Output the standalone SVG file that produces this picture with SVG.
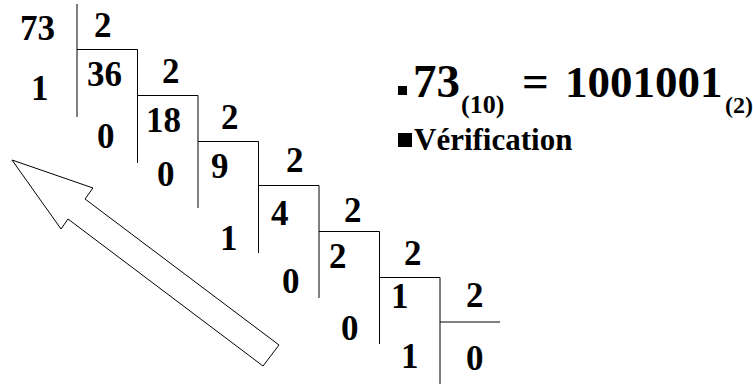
<svg xmlns="http://www.w3.org/2000/svg" width="753" height="385" viewBox="0 0 753 385">
<style>
text{font-family:'Liberation Serif','Times New Roman','DejaVu Serif',serif;font-weight:700;fill:#000}
.d{font-size:35px}
.ln{stroke:#000;stroke-width:1;fill:none}
</style>
<rect width="753" height="385" fill="#fff"/>
<g id="lines" class="ln">
<path d="M77,4V117 M77,49.5H137.5 M137.5,49.5V163 M137.5,95.5H198 M198,95.5V208 M198,141.5H258.5 M258.5,141.5V253 M258.5,185.5H319 M319,185.5V298 M319,231.5H379.5 M379.5,231.5V344 M379.5,277.5H440 M440,277.5V384 M440,322H500"/>
</g>
<g id="step1">
<text class="d" x="20" y="40">73</text>
<text class="d" x="94" y="37">2</text>
<text class="d" x="31" y="100">1</text>
</g>
<g id="step2">
<text class="d" x="87" y="86">36</text>
<text class="d" x="162" y="83">2</text>
<text class="d" x="97" y="148">0</text>
</g>
<g id="step3">
<text class="d" x="146" y="132">18</text>
<text class="d" x="221" y="129">2</text>
<text class="d" x="157" y="186">0</text>
</g>
<g id="step4">
<text class="d" x="211" y="178">9</text>
<text class="d" x="286" y="172">2</text>
<text class="d" x="220" y="250">1</text>
</g>
<g id="step5">
<text class="d" x="271" y="225">4</text>
<text class="d" x="344" y="222">2</text>
<text class="d" x="282" y="293">0</text>
</g>
<g id="step6">
<text class="d" x="329" y="268">2</text>
<text class="d" x="404" y="265">2</text>
<text class="d" x="341" y="340">0</text>
</g>
<g id="step7">
<text class="d" x="391" y="308">1</text>
<text class="d" x="466" y="307">2</text>
<text class="d" x="401" y="368">1</text>
</g>
<g id="step8">
<text class="d" x="466" y="370">0</text>
</g>
<g id="arrow">
<polygon points="12,160 93,188 85,199 279,345 263,366 68,219 61,229" fill="#fff" stroke="#000" stroke-width="1"/>
</g>
<g id="result">
<rect x="398" y="86" width="9" height="9" fill="#000"/>
<text font-size="47" x="413" y="97">73<tspan font-size="26" x="461" dy="16">(10)</tspan><tspan x="522" dy="-16">=</tspan></text>
<text font-size="45" x="565" y="97">1001001</text>
<text font-size="24" x="725" y="113">(2)</text>
</g>
<g id="verification">
<rect x="398" y="133" width="14" height="14" fill="#000"/>
<text font-size="31" x="414" y="150">Vérification</text>
</g>
</svg>
